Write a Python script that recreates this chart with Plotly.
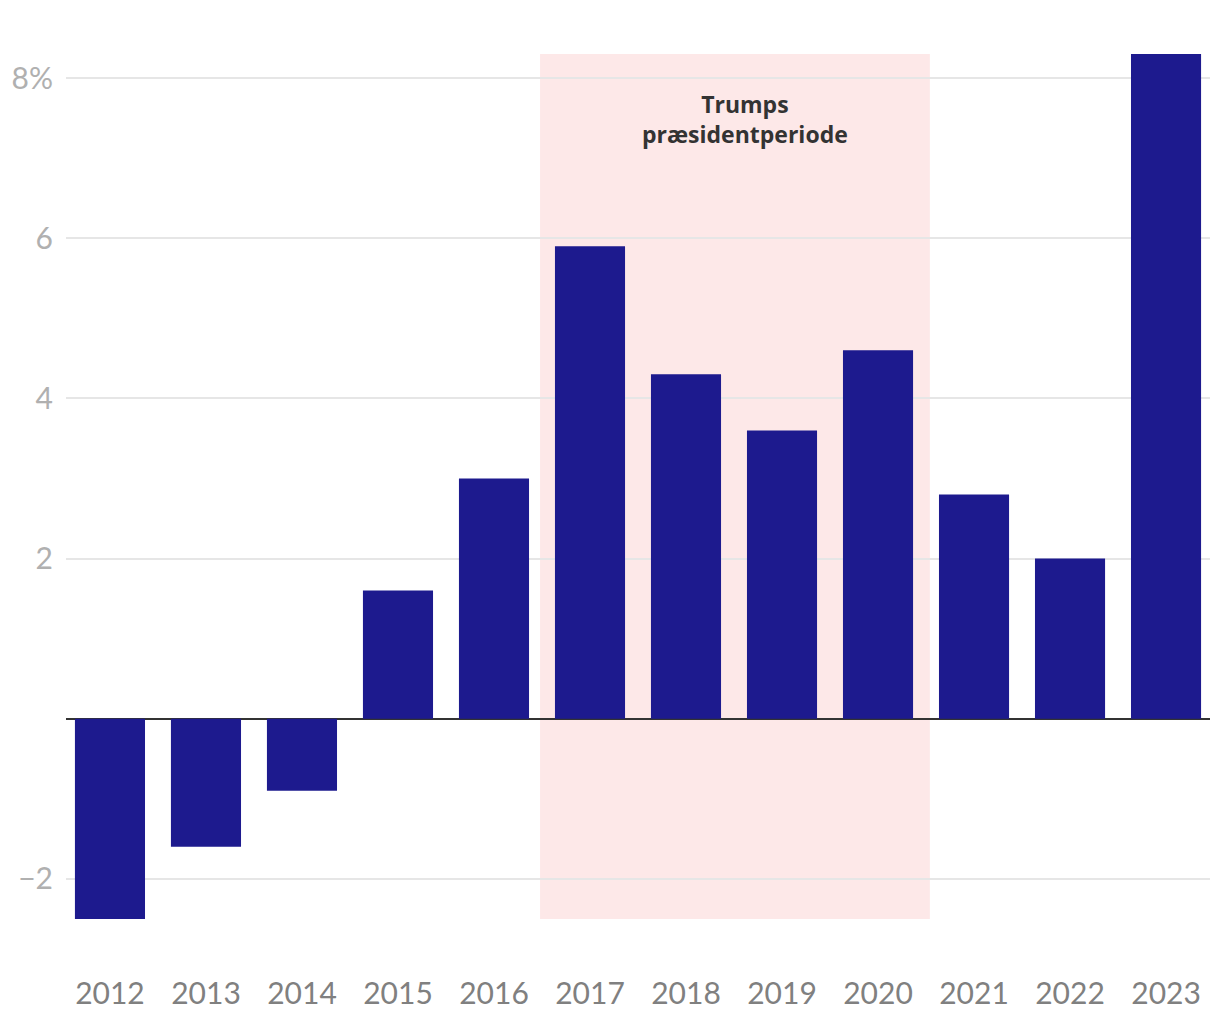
import plotly.graph_objects as go

years = ["2012", "2013", "2014", "2015", "2016", "2017", "2018", "2019", "2020", "2021", "2022", "2023"]
values = [-2.5, -1.6, -0.9, 1.6, 3.0, 5.9, 4.3, 3.6, 4.6, 2.8, 2.0, 8.3]
y_tickvals = [-2, 2, 4, 6, 8]
y_ticktext = ["\u22122", "2", "4", "6", "8%"]
shade_x = [4.48, 8.54]
shade_y = [-2.5, 8.3]
shade_label = "<b>Trumps</b><br><b>præsidentperiode</b>"
label_pos = (6.61, 7.49)

FONT = "Lato"

fig = go.Figure()
fig.add_trace(go.Bar(
    x=years, y=values,
    marker=dict(color="#1d1a8e", line=dict(width=0)),
    width=0.73,
))

fig.add_shape(type="rect", xref="x", yref="y",
              x0=shade_x[0], x1=shade_x[1], y0=shade_y[0], y1=shade_y[1],
              fillcolor="#fde8e8", line=dict(width=0), layer="below")

fig.add_annotation(x=label_pos[0], y=label_pos[1], xref="x", yref="y",
                   text=shade_label, showarrow=False,
                   font=dict(family="Open Sans", size=23, color="#333333"),
                   align="center")

fig.update_layout(
    width=1212, height=1012,
    margin=dict(l=58, r=10, t=46, b=45),
    paper_bgcolor="white", plot_bgcolor="white",
    showlegend=False,
    xaxis=dict(
        type="category",
        range=[-0.458, 11.458],
        showgrid=False, zeroline=False, showline=False,
        ticks="", tickfont=dict(family=FONT, size=30, color="#808080"),
        ticklabelstandoff=-2, automargin=False,
    ),
    yaxis=dict(
        range=[-3.2, 8.3],
        tickvals=y_tickvals, ticktext=y_ticktext,
        showgrid=True, gridcolor="#e6e6e6", gridwidth=1.5,
        zeroline=True, zerolinecolor="#333333", zerolinewidth=2,
        showline=False, ticks="",
        tickfont=dict(family=FONT, size=30, color="#b0b0b0"),
        ticklabelstandoff=12, automargin=False,
    ),
)

fig.write_html("out.html")
